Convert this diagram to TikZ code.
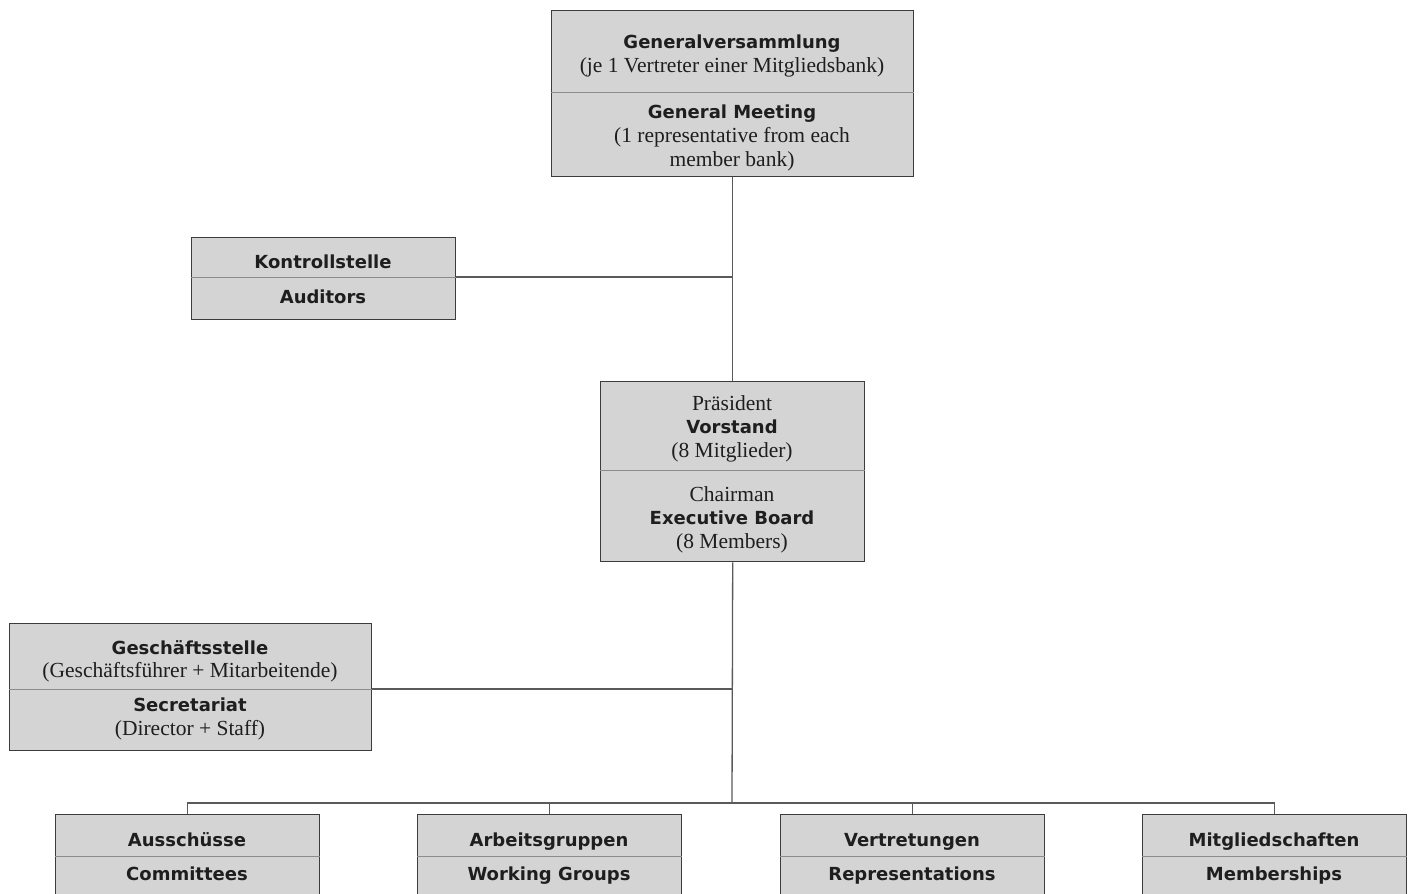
\documentclass[tikz,border=0pt]{standalone}
\usepackage{fontspec}
\setmainfont{Liberation Serif}
\newfontfamily\hdfont{DejaVu Sans}[UprightFont={* Bold}]
\begin{document}
\begin{tikzpicture}[x=1pt,y=-1pt,
  box/.style={draw=boxline,fill=boxfill,line width=1.4pt,inner sep=0pt,anchor=north west},
  divider/.style={draw=divline,line width=0.9pt},
  conn/.style={draw=connline,line width=1.3pt},
  hd/.style={font=\hdfont\fontsize{18}{20}\selectfont,text=txt,anchor=base,inner sep=0pt},
  sr/.style={font=\fontsize{21.5}{24}\selectfont,text=txt,anchor=base,inner sep=0pt}]
\definecolor{boxfill}{HTML}{D4D4D5}
\definecolor{boxline}{HTML}{3C3C3C}
\definecolor{divline}{HTML}{8C8C8C}
\definecolor{connline}{HTML}{5A5A5A}
\definecolor{txt}{HTML}{1E1E1E}
\useasboundingbox (0,0) rectangle (1408,894);
\clip (0,0) rectangle (1408,894);
% boxes
\node[box,minimum width=362pt,minimum height=166pt] (gm) at (551,10) {};
\node[box,minimum width=264pt,minimum height=82pt] (ks) at (191,237) {};
\node[box,minimum width=264pt,minimum height=180pt] (vs) at (600,381) {};
\node[box,minimum width=362pt,minimum height=127pt] (gs) at (9,623) {};
\node[box,minimum width=264pt,minimum height=110pt] (b1) at (55,814) {};
\node[box,minimum width=264pt,minimum height=110pt] (b2) at (417,814) {};
\node[box,minimum width=264pt,minimum height=110pt] (b3) at (780,814) {};
\node[box,minimum width=264pt,minimum height=110pt] (b4) at (1142,814) {};
% dividers
\draw[divider] (gm.west |- 0,92) -- (gm.east |- 0,92);
\draw[divider] (ks.west |- 0,277) -- (ks.east |- 0,277);
\draw[divider] (vs.west |- 0,470) -- (vs.east |- 0,470);
\draw[divider] (gs.west |- 0,689) -- (gs.east |- 0,689);
\foreach \b in {b1,b2,b3,b4}{\draw[divider] (\b.west |- 0,856) -- (\b.east |- 0,856);}
% texts
\node[hd] (t1) at (732,48) {Generalversammlung};
\node[sr] (t2) at (732,72) {(je 1 Vertreter einer Mitgliedsbank)};
\node[hd] (t3) at (732,118) {General Meeting};
\node[sr] (t4) at (732,142) {(1 representative from each};
\node[sr] (t5) at (732,166) {member bank)};
\node[hd] (t6) at (323,268) {Kontrollstelle};
\node[hd] (t7) at (323,303) {Auditors};
\node[sr] (t8) at (732,410) {Präsident};
\node[hd] (t9) at (732,433) {Vorstand};
\node[sr] (t10) at (732,457) {(8 Mitglieder)};
\node[sr] (t11) at (732,501) {Chairman};
\node[hd] (t12) at (732,524) {Executive Board};
\node[sr] (t13) at (732,548) {(8 Members)};
\node[hd] (t14) at (190,654) {Geschäftsstelle};
\node[sr] (t15) at (190,677) {(Geschäftsführer + Mitarbeitende)};
\node[hd] (t16) at (190,711) {Secretariat};
\node[sr] (t17) at (190,735) {(Director + Staff)};
\node[hd] (t18) at (187,846) {Ausschüsse};
\node[hd] (t19) at (187,880) {Committees};
\node[hd] (t20) at (549,846) {Arbeitsgruppen};
\node[hd] (t21) at (549,880) {Working Groups};
\node[hd] (t22) at (912,846) {Vertretungen};
\node[hd] (t23) at (912,880) {Representations};
\node[hd] (t24) at (1274,846) {Mitgliedschaften};
\node[hd] (t25) at (1274,880) {Memberships};
% connectors
\coordinate (bus) at (732,803);
\draw[conn] (gm.south) -- (vs.north);
\draw[conn] (ks.east |- 0,277) -- (gm.south |- 0,277);
\draw[conn] (vs.south) -- (bus);
\draw[conn] (gs.east |- 0,689) -- (vs.south |- 0,689);
\draw[conn] (b1.north) |- (bus) -| (b4.north);
\draw[conn] (b2.north) -- (b2.north |- bus);
\draw[conn] (b3.north) -- (b3.north |- bus);
\end{tikzpicture}
\end{document}
